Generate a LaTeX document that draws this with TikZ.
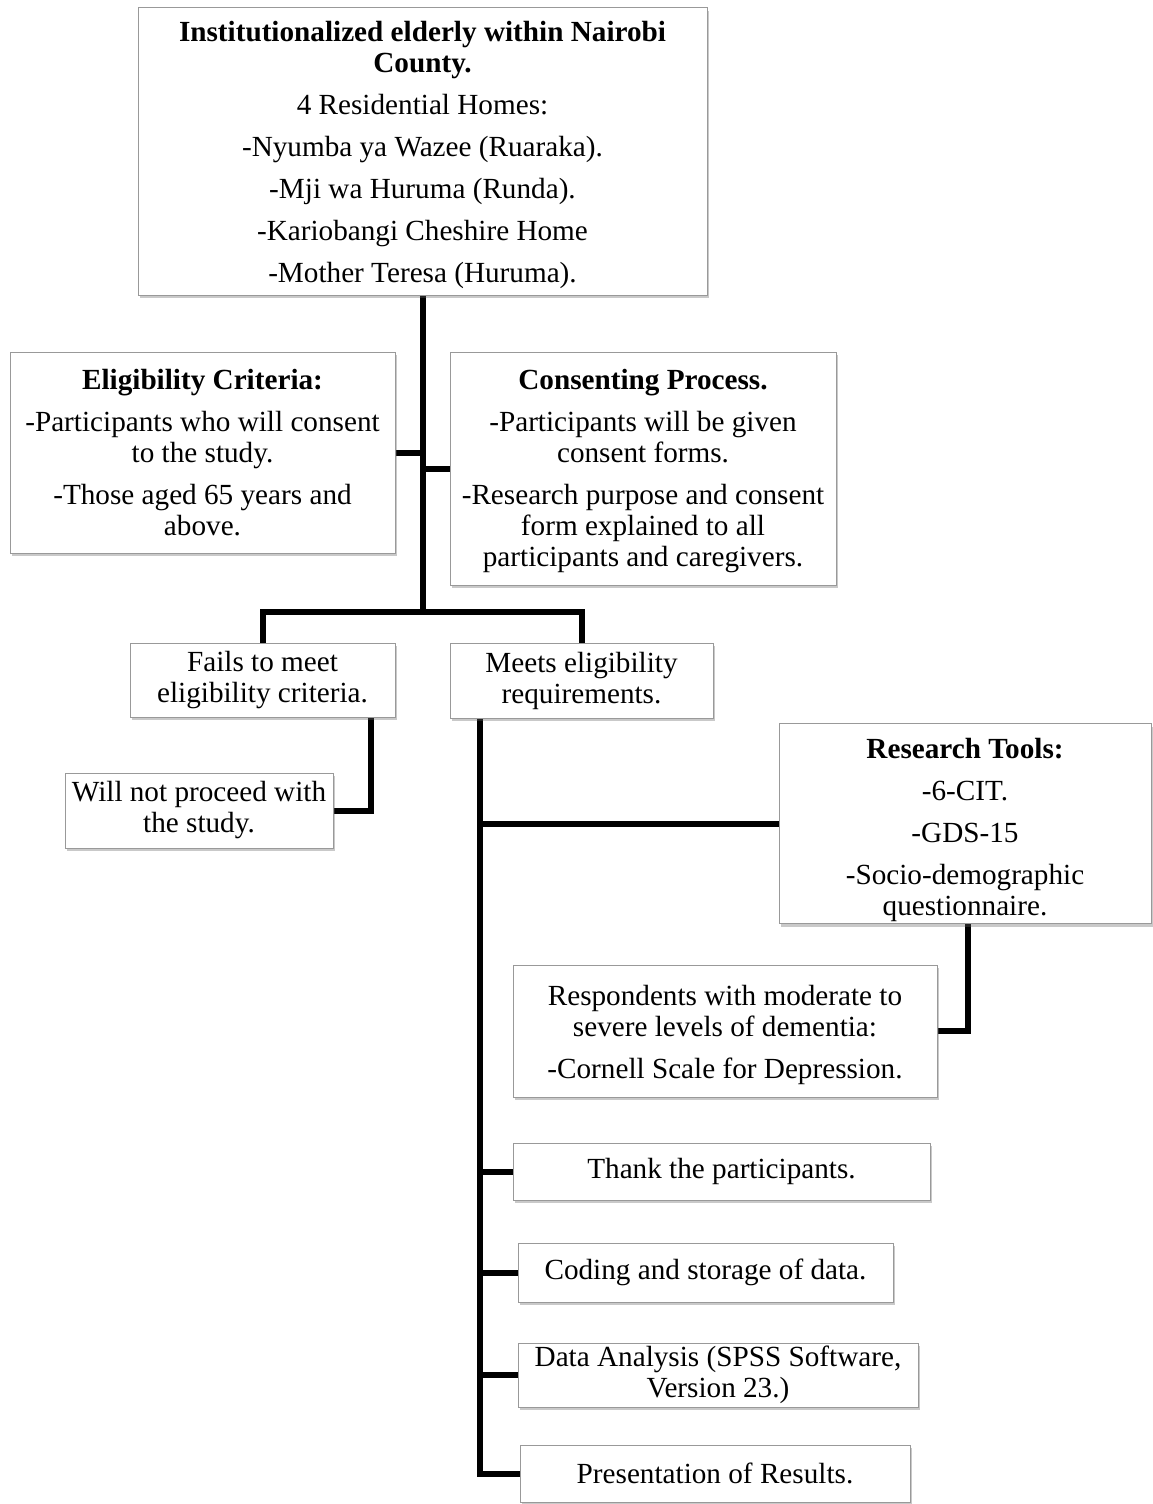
\documentclass[tikz,border=0pt]{standalone}
\usepackage{fontspec}
\setmainfont{Liberation Serif}
\usetikzlibrary{shadows,backgrounds,calc}
\begin{document}
\begin{tikzpicture}[x=0.5pt,y=-0.5pt,
  txt/.style={align=center, inner sep=0pt, font=\fontsize{14.6}{15.5}\selectfont},
  box/.style={txt, draw=black!40, line width=0.5pt, fill=white,
    drop shadow={opacity=0.35, shadow xshift=0.8pt, shadow yshift=-1.5pt, fill=black!60}},
  conn/.style={line width=3pt, line join=miter, line cap=rect}]
\useasboundingbox (0,0) rectangle (1152,1504);

\node[box, minimum width=284.5pt, minimum height=143.5pt] (top) at (422.5,151.5) {};
\node[txt] (topT) at ([yshift=-1.5pt]top.center)
  {\textbf{Institutionalized elderly within Nairobi}\\\textbf{County.}\\[5.5pt]
   4 Residential Homes:\\[5.5pt] -Nyumba ya Wazee (Ruaraka).\\[5.5pt]
   -Mji wa Huruma (Runda).\\[5.5pt] -Kariobangi Cheshire Home\\[5.5pt]
   -Mother Teresa (Huruma).};

\node[box, minimum width=192.5pt, minimum height=100.5pt] (elig) at (202.5,452.5)
  {\textbf{Eligibility Criteria:}\\[5.5pt] -Participants who will consent\\ to the study.\\[5.5pt]
   -Those aged 65 years and\\ above.};

\node[box, minimum width=193pt, minimum height=116.5pt] (consent) at (643,468.5) {};
\node[txt] (consentT) at ([yshift=-1.5pt]consent.center)
  {\textbf{Consenting Process.}\\[5.5pt] -Participants will be given\\ consent forms.\\[5.5pt]
   -Research purpose and consent\\ form explained to all\\ participants and caregivers.};

\node[box, minimum width=132.5pt, minimum height=37pt] (fails) at (262.5,680)
  {Fails to meet\\ eligibility criteria.};
\node[box, minimum width=131.5pt, minimum height=37.5pt] (meets) at (581.5,680.5)
  {Meets eligibility\\ requirements.};
\node[box, minimum width=134pt, minimum height=37.5pt] (will) at (199,810.5)
  {Will not proceed with\\ the study.};

\node[box, minimum width=186pt, minimum height=100pt] (tools) at (965,823.5) {};
\node[txt] (toolsT) at ([yshift=-3pt]tools.center)
  {\textbf{Research Tools:}\\[5.5pt] -6-CIT.\\[5.5pt] -GDS-15\\[5.5pt]
   -Socio-demographic\\ questionnaire.};

\node[box, minimum width=212pt, minimum height=66pt] (resp) at (725,1031) {};
\node[txt] (respT) at ([yshift=-2pt]resp.center)
  {Respondents with moderate to\\ severe levels of dementia:\\[5.5pt]
   -Cornell Scale for Depression.};

\node[box, minimum width=208.5pt, minimum height=28.5pt] (thank) at (721.5,1171.5)
  {Thank the participants.};
\node[box, minimum width=187.5pt, minimum height=29.5pt] (coding) at (705.5,1272.5)
  {Coding and storage of data.};
\node[box, minimum width=200pt, minimum height=32pt] (data) at (718,1375)
  {Data Analysis (SPSS Software,\\ Version 23.)};
\node[box, minimum width=195pt, minimum height=28.5pt] (pres) at (715,1473.5)
  {Presentation of Results.};

\begin{scope}[on background layer]
  \fill[white] (0,0) rectangle (1152,1504);
  \coordinate (j1) at (423,612);
  \draw[conn] (top.south) -- (top.south |- j1);
  \draw[conn] (elig.east) -- (elig.east -| top.south);
  \draw[conn] (consent.west) -- (consent.west -| top.south);
  \draw[conn] (fails.north) |- (j1) -| (meets.north);
  \coordinate (fs) at ([xshift=-12.5pt]fails.south east);
  \draw[conn] (fs) |- (will.east);
  \coordinate (ms) at ([xshift=15pt]meets.south west);
  \draw[conn] (ms) |- (pres.west);
  \foreach \n in {tools,thank,coding,data}
    \draw[conn] (\n.west) -- (\n.west -| ms);
  \coordinate (ts) at ([xshift=1.5pt]tools.south);
  \draw[conn] (ts) |- (resp.east);
\end{scope}
\end{tikzpicture}
\end{document}
